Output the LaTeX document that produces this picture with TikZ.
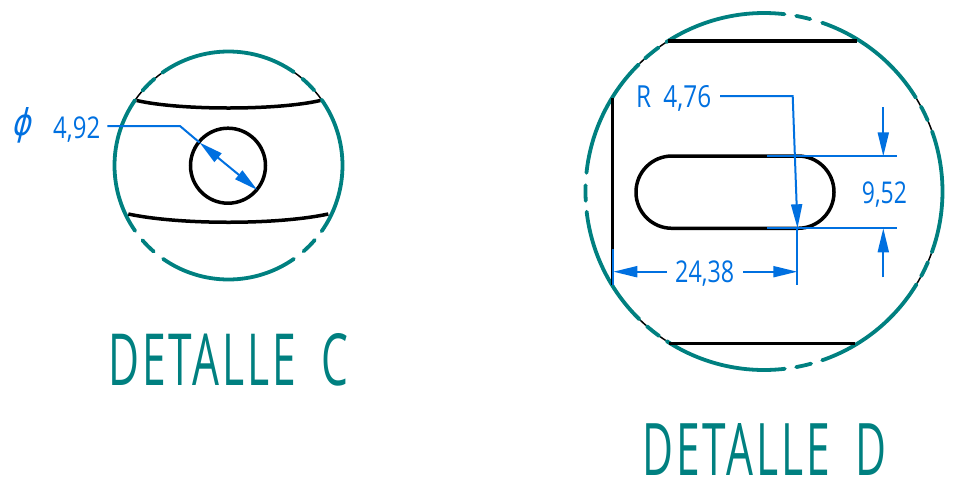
\documentclass[tikz,border=0pt]{standalone}
\usepackage{fontspec}
\usepackage{graphicx}
\usetikzlibrary{arrows.meta}
\newfontfamily\dimfont{Open Sans}
\newfontfamily\phifont{DejaVu Sans}
\newfontfamily\titlefont[LetterSpace=7]{Open Sans}
\definecolor{tealc}{RGB}{0,128,128}
\definecolor{dimblue}{RGB}{0,112,224}
\tikzset{
  ring/.style={draw=tealc,line width=3.8pt,line cap=round},
  thinblack/.style={draw=black,line width=1.5pt},
  part/.style={draw=black,line width=3.5pt},
  dimline/.style={draw=dimblue,line width=2pt},
  headend/.style={-{Triangle[length=24pt,width=11pt]}},
  headboth/.style={{Triangle[length=24pt,width=11pt]}-{Triangle[length=24pt,width=11pt]}},
  dimtext/.style={text=dimblue,anchor=base west,inner sep=0pt,font=\dimfont},
  titletext/.style={text=tealc,anchor=base west,inner sep=0pt,font=\titlefont}
}
\newcommand{\ringarc}[6]{\draw[#6] (#1,#2) ++(-#4:#3) arc[start angle=-#4,end angle=-#5,radius=#3];}
\begin{document}
\begin{tikzpicture}[x=1pt,y=-1pt]
\useasboundingbox (0,0) rectangle (954,496);
% ---- detail C
\foreach \a/\b in {55/49.6,41.2/35.2,139/145,125.5/130.5}{\ringarc{228.5}{165.5}{114}{\a}{\b}{thinblack}}
\foreach \a/\b in {125.5/55,49.6/41.2,35.3/-35.2,-40.8/-48.8,-55/-125,-131/-139,-145/-215,130.5/139}{\ringarc{228.5}{165.5}{114}{\a}{\b}{ring}}
\coordinate (cTopL) at (136.7,100.5);
\coordinate (cTopR) at (320.3,100.5);
\coordinate (cLowL) at (128.3,214);
\coordinate (cLowR) at (328.3,214);
\draw[part] (cTopL) .. controls (180,110.5) and (277,110.5) .. (cTopR);
\draw[part] (cLowL) .. controls (180,225) and (277,225) .. (cLowR);
\node[circle,draw=black,line width=3.5pt,minimum size=75pt,inner sep=0pt] (hole) at (228,165.7) {};
\coordinate (cLead) at (107.3,126);
\coordinate (cKnee) at (180,126);
\coordinate (cTipA) at (199.5,142.5);
\coordinate (cTipB) at (257.3,190);
\draw[dimline] (cLead) -- (cKnee) -- (cTipA);
\draw[dimline,headboth] (cTipA) -- (cTipB);
\node[dimtext,anchor=center,xslant=0.25,transform shape] (cPhi) at (23.8,125) {\resizebox{19pt}{28pt}{\phifont ϕ}};
\node[dimtext] (cVal) at (53,138.3) {\resizebox{47pt}{21.7pt}{4,92}};
\node[titletext] (cTitle) at (108,385) {\resizebox{240pt}{52pt}{DETALLE\hspace{0.6em}C}};
% ---- detail D
\foreach \a/\b in {31.7/28.4,23.5/19.7,-19.9/-23.3,-28.3/-31.3,237/234,229/225.7,123.2/126.2,131.8/134.6}{\ringarc{764}{191.5}{178.5}{\a}{\b}{thinblack}}
\foreach \a/\b in {83.4/123.2,79.6/75,71/31.7,28.4/23.5,19.7/-19.9,-23.3/-28.3,-31.3/-71,-74.7/-79.6,-83.3/-123,234/229,225.7/186.5,183/178,174/134.6,126.2/131.8}{\ringarc{764}{191.5}{178.5}{\a}{\b}{ring}}
\coordinate (dTopL) at (668,41);
\coordinate (dTopR) at (857,41);
\coordinate (dBotL) at (669,343.3);
\coordinate (dBotR) at (855,343.3);
\coordinate (dWallT) at (612.7,98);
\coordinate (dWallB) at (612.7,285);
\draw[part] (dTopL) -- (dTopR);
\draw[part] (dBotL) -- (dBotR);
\draw[part] (dWallT) -- (dWallB);
\draw[part,rounded corners=36pt] (636,156) rectangle (834,228.3);
% R leader
\coordinate (rLead) at (720,96);
\coordinate (rKnee) at (792.7,96);
\coordinate (rTip) at (797.5,228.3);
\draw[dimline,headend] (rLead) -- (rKnee) -- (rTip);
\node[dimtext] (rVal) at (636,107.3) {\resizebox{75pt}{22pt}{R\hspace{0.5em}4,76}};
% 9,52
\coordinate (eTopA) at (767,156.3);
\coordinate (eTopB) at (897,156.3);
\coordinate (eBotA) at (767,228.3);
\coordinate (eBotB) at (897,228.3);
\draw[dimline] (eTopA) -- (eTopB);
\draw[dimline] (eBotA) -- (eBotB);
\coordinate (vTopTail) at (883.3,107.3);
\coordinate (vTopTip) at (883.3,156.3);
\coordinate (vBotTail) at (883.3,277.3);
\coordinate (vBotTip) at (883.3,228.3);
\draw[dimline,headend] (vTopTail) -- (vTopTip);
\draw[dimline,headend] (vBotTail) -- (vBotTip);
\node[dimtext] (vVal) at (861.7,203.3) {\resizebox{45pt}{21.7pt}{9,52}};
% 24,38
\coordinate (hLeftTail) at (666.7,271.7);
\coordinate (hLeftTip) at (613.3,271.7);
\coordinate (hRightTail) at (743.3,271.7);
\coordinate (hRightTip) at (797.3,271.7);
\coordinate (xLeftA) at (612.7,249.3);
\coordinate (xLeftB) at (612.7,285);
\coordinate (xRightA) at (797.3,228.3);
\coordinate (xRightB) at (797.3,285);
\draw[dimline] (xLeftA) -- (xLeftB);
\draw[dimline] (xRightA) -- (xRightB);
\draw[dimline,headend] (hLeftTail) -- (hLeftTip);
\draw[dimline,headend] (hRightTail) -- (hRightTip);
\node[dimtext] (hVal) at (675,282) {\resizebox{59pt}{21.7pt}{24,38}};
\node[titletext] (dTitle) at (642,475) {\resizebox{244pt}{52pt}{DETALLE\hspace{0.6em}D}};
\end{tikzpicture}
\end{document}
